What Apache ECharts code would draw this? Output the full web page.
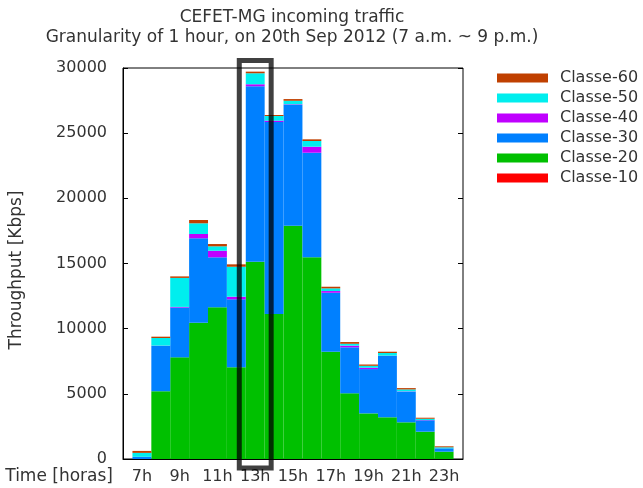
<!DOCTYPE html>
<html>
<head>
<meta charset="utf-8">
<script src="https://cdn.jsdelivr.net/npm/echarts@6/dist/echarts.min.js"></script>
<style>html,body{margin:0;padding:0;background:#fff}#c{width:643px;height:488px}</style>
</head>
<body>
<div id="c"></div>
<script>
// Hours (categories)
var hours = ['7h','8h','9h','10h','11h','12h','13h','14h','15h','16h','17h','18h','19h','20h','21h','22h','23h'];
// Throughput per class [Kbps]
var classe10 = [0,0,0,0,0,0,0,0,0,0,0,0,0,0,0,0,0];
var classe20 = [0,5200,7800,10460,11640,7035,15140,11125,17900,15475,8230,5040,3500,3200,2815,2095,560];
var classe30 = [170,3475,3820,6475,3835,5217,13460,14730,9260,8025,4527,3530,3400,4700,2350,875,260];
var classe40 = [0,20,50,330,506,200,153,100,50,460,130,123,100,25,25,20,0];
var classe50 = [300,590,2225,820,337,2300,845,360,276,437,207,150,150,207,150,100,77];
var classe60 = [150,100,115,255,176,184,123,77,130,130,123,130,100,100,100,77,77];
var yTicks = {min:0, max:30000, interval:5000};
var highlightHour = '13h';

// padded axis: half a bar of space at each end
var cats = ['6h'].concat(hours).concat(['24h']);
function pad(a){ return ['-'].concat(a).concat(['-']); }

var FONT = 'DejaVu Sans';
var TXT = '#333';
var chart = echarts.init(document.getElementById('c'), null, {renderer:'canvas'});

function bar(name, data, color){
  return {name:name, type:'bar', stack:'t', data:pad(data), barWidth:'100%',
    itemStyle:{color:color}, emphasis:{disabled:true}};
}

chart.setOption({
  animation:false,
  textStyle:{fontFamily:FONT},
  title:{
    text:'CEFET-MG incoming traffic\nGranularity of 1 hour, on 20th Sep 2012 (7 a.m. ~ 9 p.m.)',
    left:292, top:8, padding:0, textAlign:'center',
    textStyle:{fontSize:17, fontWeight:'normal', color:TXT, lineHeight:20, fontFamily:FONT}
  },
  legend:{
    orient:'vertical', left:497, top:70, padding:0, itemWidth:51, itemHeight:9, itemGap:4,
    icon:'rect', selectedMode:false,
    data:['Classe-60','Classe-50','Classe-40','Classe-30','Classe-20','Classe-10'],
    textStyle:{fontSize:16, color:TXT, fontFamily:FONT, lineHeight:16, padding:[0,0,0,7]}
  },
  grid:{left:121, right:180, top:68, bottom:29, show:true, borderColor:'#000', borderWidth:1, backgroundColor:'transparent'},
  xAxis:{
    type:'category', data:cats, boundaryGap:false,
    name:'Time [horas]', nameLocation:'start', nameGap:10,
    nameTextStyle:{fontSize:17, color:TXT, fontFamily:FONT, verticalAlign:'top', padding:[9,0,0,0]},
    axisLine:{show:true, lineStyle:{color:'#000', width:1}},
    axisTick:{show:false},
    axisLabel:{fontSize:16, color:TXT, fontFamily:FONT, margin:10,
      interval:function(i){ return i % 2 === 1; }},
    splitLine:{show:false}
  },
  yAxis:[{
    type:'value', min:yTicks.min, max:yTicks.max, interval:yTicks.interval,
    name:'Throughput [Kbps]', nameLocation:'middle', nameGap:98, nameRotate:90,
    nameTextStyle:{fontSize:17, color:TXT, fontFamily:FONT, padding:[0,13,0,0]},
    axisLine:{show:true, lineStyle:{color:'#000', width:1}},
    axisTick:{show:true, inside:true, length:5, lineStyle:{color:'#000'}},
    axisLabel:{fontSize:16, color:TXT, fontFamily:FONT, margin:16,
      formatter:function(v){ return String(v); }},
    splitLine:{show:false}
  },{
    type:'value', position:'right', min:yTicks.min, max:yTicks.max, interval:yTicks.interval,
    axisLine:{show:false},
    axisTick:{show:true, inside:true, length:5, lineStyle:{color:'#000'}},
    axisLabel:{show:false}, splitLine:{show:false}
  }],
  series:[
    bar('Classe-10', classe10, '#ff0000'),
    bar('Classe-20', classe20, '#00c000'),
    bar('Classe-30', classe30, '#0080ff'),
    bar('Classe-40', classe40, '#c000ff'),
    bar('Classe-50', classe50, '#00eeee'),
    bar('Classe-60', classe60, '#c04000')
  ]
});

// highlight box around the 13h bar
var cx = chart.convertToPixel({xAxisIndex:0}, highlightHour);
var bw = chart.getModel().getComponent('xAxis',0).axis.getBandWidth();
var yTop = chart.convertToPixel({yAxisIndex:0}, yTicks.max);
var yBot = chart.convertToPixel({yAxisIndex:0}, yTicks.min);
chart.setOption({graphic:[{
  type:'rect', z:100,
  shape:{x:cx - bw/2 - 6.5, y:yTop - 7.5, width:bw + 13, height:(yBot - yTop) + 16.5},
  style:{fill:'none', stroke:'rgba(0,0,0,0.75)', lineWidth:5}
}]});
</script>
</body>
</html>
